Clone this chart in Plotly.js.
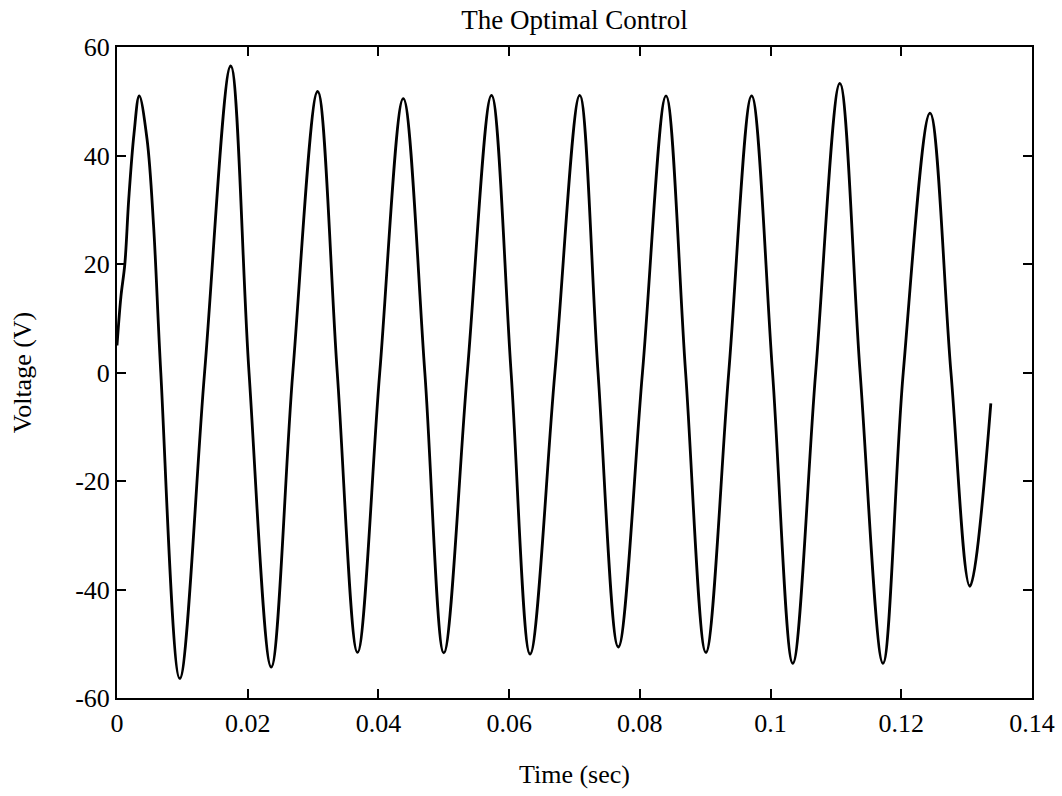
<!DOCTYPE html>
<html>
<head>
<meta charset="utf-8">
<script src="https://cdn.plot.ly/plotly-3.0.1.min.js"></script>
<style>html,body{margin:0;padding:0;background:#fff;}#chart{width:1062px;height:796px;}</style>
</head>
<body>
<div id="chart"></div>
<script>
// Time (sec) and voltage (V)
const timeSec = [0, 0.0006, 0.0012, 0.0018, 0.0026, 0.0034, 0.0046, 0.0056, 0.0067,
  0.0096, 0.0134, 0.0174, 0.0202, 0.0236, 0.0269, 0.0307, 0.0337, 0.0368, 0.0402,
  0.0438, 0.0471, 0.0500, 0.0536, 0.0573, 0.0603, 0.0632, 0.0670, 0.0708, 0.0736,
  0.0767, 0.0804, 0.0840, 0.0870, 0.0901, 0.0936, 0.0971, 0.1003, 0.1034, 0.1069,
  0.1106, 0.1137, 0.1172, 0.1203, 0.1244, 0.1276, 0.1305, 0.1337];
const voltage = [5, 14, 20, 32, 44, 51, 43, 27, 0,
  -56.4, 0, 56.5, 0, -54.3, 0, 51.8, 0, -51.6, 0,
  50.5, 0, -51.7, 0, 51.1, 0, -51.9, 0, 51.1, 0,
  -50.6, 0, 51.0, 0, -51.6, 0, 51.0, 0, -53.6, 0,
  53.3, 0, -53.6, 0, 47.8, 0, -39.4, -5.7];

const xTickVals = [0, 0.02, 0.04, 0.06, 0.08, 0.1, 0.12, 0.14];
const xTickText = ['0', '0.02', '0.04', '0.06', '0.08', '0.1', '0.12', '0.14'];
const yTickVals = [-60, -40, -20, 0, 20, 40, 60];
const yTickText = ['-60', '-40', '-20', '0', '20', '40', '60'];

const family = 'Liberation Serif, Times New Roman, serif';
const tickFont = {family: family, size: 26, color: '#000'};
const titleFont = {family: family, size: 26, color: '#000'};

const trace = {
  x: timeSec, y: voltage, type: 'scatter', mode: 'lines',
  line: {color: '#000', width: 2.8, shape: 'spline', smoothing: 1},
  hoverinfo: 'skip'
};

const axisCommon = {
  showgrid: false, zeroline: false, showline: true, linecolor: '#000', linewidth: 2,
  mirror: 'ticks', ticks: 'inside', ticklen: 9, tickwidth: 2, tickcolor: '#000',
  tickfont: tickFont
};

const layout = {
  width: 1062, height: 796,
  margin: {l: 117, r: 30, t: 47, b: 98},
  paper_bgcolor: '#fff', plot_bgcolor: '#fff',
  font: tickFont,
  showlegend: false,
  title: {text: 'The Optimal Control', font: {family: family, size: 27, color: '#000'},
    x: 0.5, xanchor: 'center', xref: 'paper', y: 0.975, yanchor: 'middle', yref: 'container'},
  xaxis: Object.assign({}, axisCommon, {
    range: [0, 0.14], tickmode: 'array', tickvals: xTickVals, ticktext: xTickText,
    ticklabelstandoff: 1,
    title: {text: 'Time (sec)', font: titleFont, standoff: 28}
  }),
  yaxis: Object.assign({}, axisCommon, {
    range: [-60, 60], tickmode: 'array', tickvals: yTickVals, ticktext: yTickText,
    ticklabelstandoff: 0,
    title: {text: 'Voltage (V)', font: titleFont, standoff: 36}
  })
};

Plotly.newPlot('chart', [trace], layout, {staticPlot: true, displayModeBar: false});
</script>
</body>
</html>
